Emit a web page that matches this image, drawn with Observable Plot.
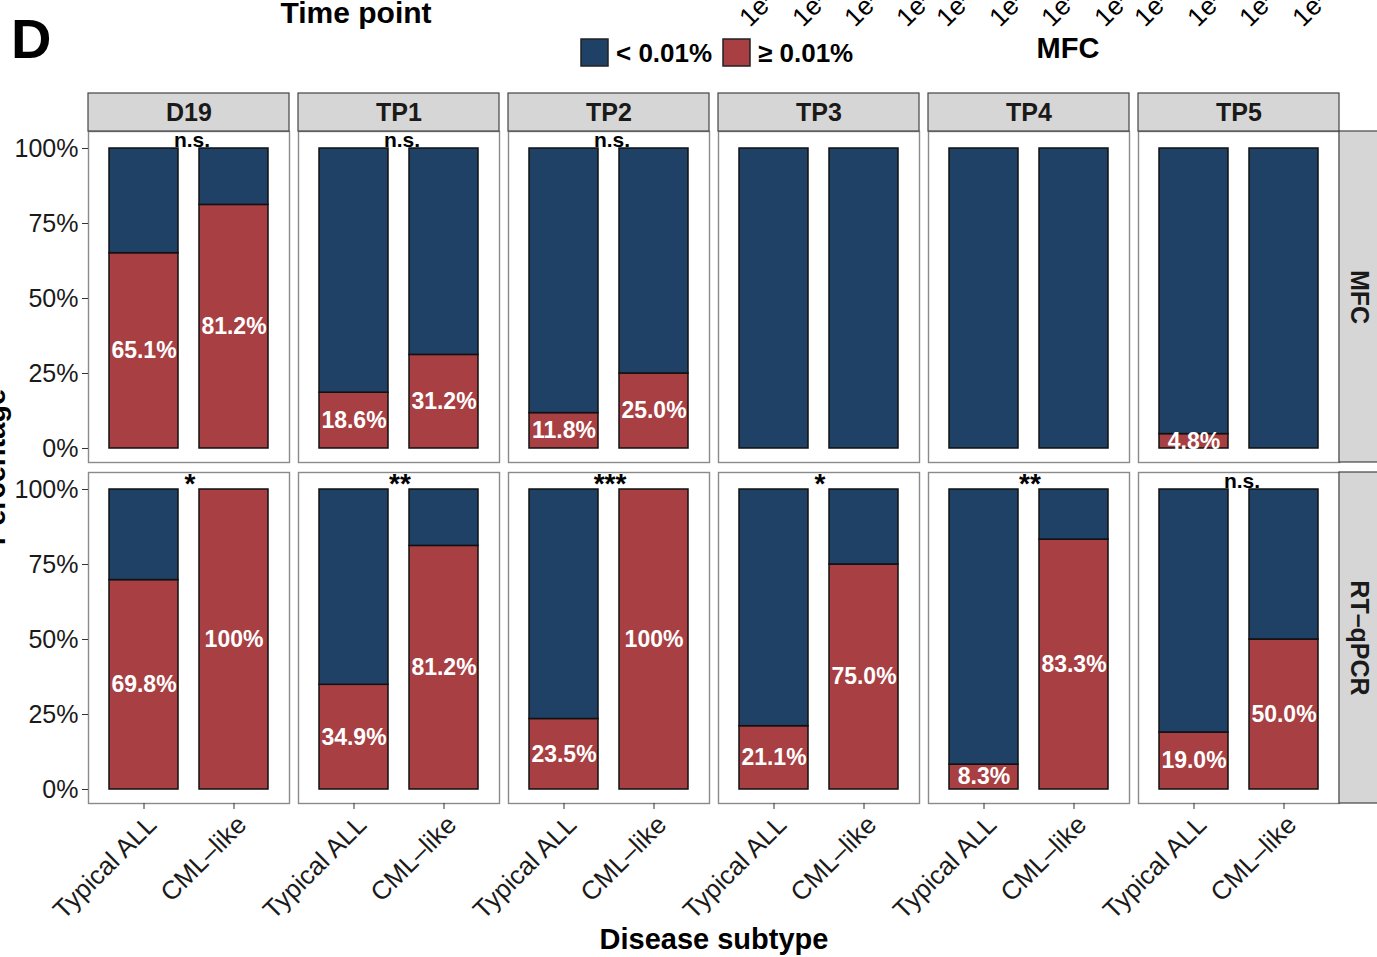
<!DOCTYPE html>
<html><head><meta charset="utf-8">
<script src="https://cdn.jsdelivr.net/npm/d3@7"></script>
<script src="https://cdn.jsdelivr.net/npm/@observablehq/plot@0.6"></script>
<style>
body{margin:0;background:#fff;}
#wrap{position:relative;width:1377px;height:957px;overflow:hidden;font-family:"Liberation Sans",Arial,Helvetica,sans-serif;background:#fff;}
#wrap svg{position:absolute;left:0;top:0;}
</style></head><body><div id="wrap"></div>
<script>
// ---- data ----
const timepoints = ["D19", "TP1", "TP2", "TP3", "TP4", "TP5"];
const methods = ["MFC", "RT–qPCR"];
const subtypes = ["Typical ALL", "CML–like"];
const levels = ["< 0.01%", "≥ 0.01%"];
const levelColors = ["#1f4166", "#a83f42"];
// percentage of patients with MRD >= 0.01%, per time point: [Typical ALL, CML-like]
const mfcPositive = [65.1, 81.2, 18.6, 31.2, 11.8, 25.0, 0, 0, 0, 0, 4.8, 0];
const pcrPositive = [69.8, 100, 34.9, 81.2, 23.5, 100, 21.1, 75.0, 8.3, 83.3, 19.0, 50.0];
const mfcSignif = ["n.s.", "n.s.", "n.s.", "", "", ""];
const pcrSignif = ["*", "**", "***", "*", "**", "n.s."];
const yTicks = [0, 0.25, 0.5, 0.75, 1];
const topLabels = ["1e−05","1e−04","1e−03","1e−02","1e−05","1e−04","1e−03","1e−02","1e−05","1e−04","1e−03","1e−02"];

// ---- derived tables ----
const rows = [];
methods.forEach((m, mi) => {
  const vals = mi === 0 ? mfcPositive : pcrPositive;
  timepoints.forEach((tp, ti) => {
    subtypes.forEach((s, si) => rows.push({m, tp, s, p: vals[ti * 2 + si]}));
  });
});
const segs = rows.flatMap(d => [
  {...d, level: levels[1], y1: 0, y2: d.p / 100},
  {...d, level: levels[0], y1: d.p / 100, y2: 1}
]).filter(d => d.y2 > d.y1);
const labelRows = rows.filter(d => d.p > 0);
const sigRows = [];
methods.forEach((m, mi) => timepoints.forEach((tp, ti) => {
  const t = (mi === 0 ? mfcSignif : pcrSignif)[ti];
  if (t) sigRows.push({m, tp, sig: t});
}));
const nsRows = sigRows.filter(d => d.sig === "n.s.");
const starRows = sigRows.filter(d => d.sig !== "n.s.");
const topStrips = timepoints.map(tp => ({tp, m: methods[0]}));
const rightStrips = methods.map(m => ({tp: timepoints[timepoints.length - 1], m}));
const fmt = p => (p === 100 ? "100" : p.toFixed(1)) + "%";
const pctFmt = d => Math.round(d * 100) + "%";

const hasAxisMarks = typeof Plot.axisX === "function";
const axisMarks = hasAxisMarks ? [
  Plot.axisY({ticks: yTicks, tickFormat: pctFmt, tickSize: 6, tickPadding: 4, fontSize: 25, label: null, stroke: "#333", fill: "#1a1a1a"}),
  Plot.axisX({tickSize: 6, tickFormat: () => "", label: null, stroke: "#333"}),
  Plot.axisX({tickSize: 0, tickPadding: 17, tickRotate: -45, dx: 8, fontSize: 26, label: null, fill: "#1a1a1a"})
] : [];

const plot = Plot.plot({
  width: 1377, height: 957,
  marginTop: 131, marginBottom: 154, marginLeft: 88, marginRight: 38,
  style: {fontFamily: '"Liberation Sans", Arial, Helvetica, sans-serif', fontSize: "25px", color: "#1a1a1a", background: "transparent", overflow: "visible"},
  fx: {domain: timepoints, paddingInner: 0.043, paddingOuter: 0, axis: null, label: null},
  fy: {domain: methods, paddingInner: 0.03, paddingOuter: 0, axis: null, label: null},
  x: {domain: subtypes, paddingInner: 0.23, paddingOuter: 0.225, tickRotate: -45, tickSize: 6, tickPadding: 12, label: null},
  y: {domain: [0, 1], insetTop: 17, insetBottom: 14, ticks: yTicks, tickFormat: pctFmt, tickSize: 6, tickPadding: 4, label: null},
  color: {domain: levels, range: levelColors},
  marks: [
    Plot.frame({stroke: "#8a8a8a", strokeWidth: 1.4}),
    Plot.rect(topStrips, {fx: "tp", fy: "m", insetTop: -38, insetBottom: 331, fill: "#d6d6d6", stroke: "#444", strokeWidth: 1.2}),
    Plot.text(topStrips, {fx: "tp", fy: "m", text: "tp", frameAnchor: "top", lineAnchor: "middle", dy: -19, fontWeight: "bold", fontSize: 25, fill: "#1a1a1a"}),
    Plot.rect(rightStrips, {fx: "tp", fy: "m", insetLeft: 201, insetRight: -50, fill: "#d6d6d6", stroke: "#444", strokeWidth: 1.2}),
    Plot.text(rightStrips, {fx: "tp", fy: "m", text: "m", frameAnchor: "right", textAnchor: "middle", lineAnchor: "middle", dx: 19, rotate: 90, fontWeight: "bold", fontSize: 25, fill: "#1a1a1a"}),
    Plot.barY(segs, {fx: "tp", fy: "m", x: "s", y1: "y1", y2: "y2", fill: "level", stroke: "#111", strokeWidth: 1.5}),
    Plot.text(labelRows, {fx: "tp", fy: "m", x: "s", y: d => d.p / 200, text: d => fmt(d.p), fill: "white", fontWeight: "bold", fontSize: 23}),
    Plot.text(nsRows, {fx: "tp", fy: "m", y: () => 1, dy: -8, dx: 3, text: "sig", fontWeight: "bold", fontSize: 21, fill: "#000"}),
    Plot.text(starRows, {fx: "tp", fy: "m", y: () => 1, dy: -5, dx: 1, text: "sig", fontWeight: "bold", fontSize: 28, fill: "#000"}),
    ...axisMarks
  ]
});
const wrap = document.getElementById("wrap");
wrap.appendChild(plot);

// ---- titles, legend, axis titles (overlay) ----
const ov = d3.select(wrap).append("svg").attr("width", 1377).attr("height", 957)
  .style("font-family", '"Liberation Sans", Arial, Helvetica, sans-serif');
ov.append("text").attr("x", 11).attr("y", 58).attr("font-size", 56).attr("font-weight", "bold").text("D");
ov.append("text").attr("x", 356).attr("y", 23).attr("text-anchor", "middle").attr("font-size", 30).attr("font-weight", "bold").text("Time point");
const legX = [581, 723];
levels.forEach((lv, i) => {
  ov.append("rect").attr("x", legX[i]).attr("y", 39).attr("width", 27).attr("height", 27)
    .attr("fill", levelColors[i]).attr("stroke", "#222").attr("stroke-width", 1.5);
  ov.append("text").attr("x", legX[i] + 35).attr("y", 62).attr("font-size", 26).attr("font-weight", "bold").text(lv);
});
ov.append("text").attr("x", 1068).attr("y", 58).attr("text-anchor", "middle").attr("font-size", 29).attr("font-weight", "bold").text("MFC");
const tlX = [742, 795, 847, 899, 939, 992, 1044, 1097, 1137, 1190, 1242, 1295];
topLabels.forEach((t, i) => {
  ov.append("text").attr("transform", `translate(${tlX[i] + 8},28) rotate(-45)`).attr("font-size", 26).text(t);
});
ov.append("text").attr("x", 714).attr("y", 949).attr("text-anchor", "middle").attr("font-size", 29).attr("font-weight", "bold").text("Disease subtype");
ov.append("text").attr("transform", "translate(5,467) rotate(-90)").attr("text-anchor", "middle").attr("font-size", 29).attr("font-weight", "bold").text("Percentage");
</script>
</body></html>
